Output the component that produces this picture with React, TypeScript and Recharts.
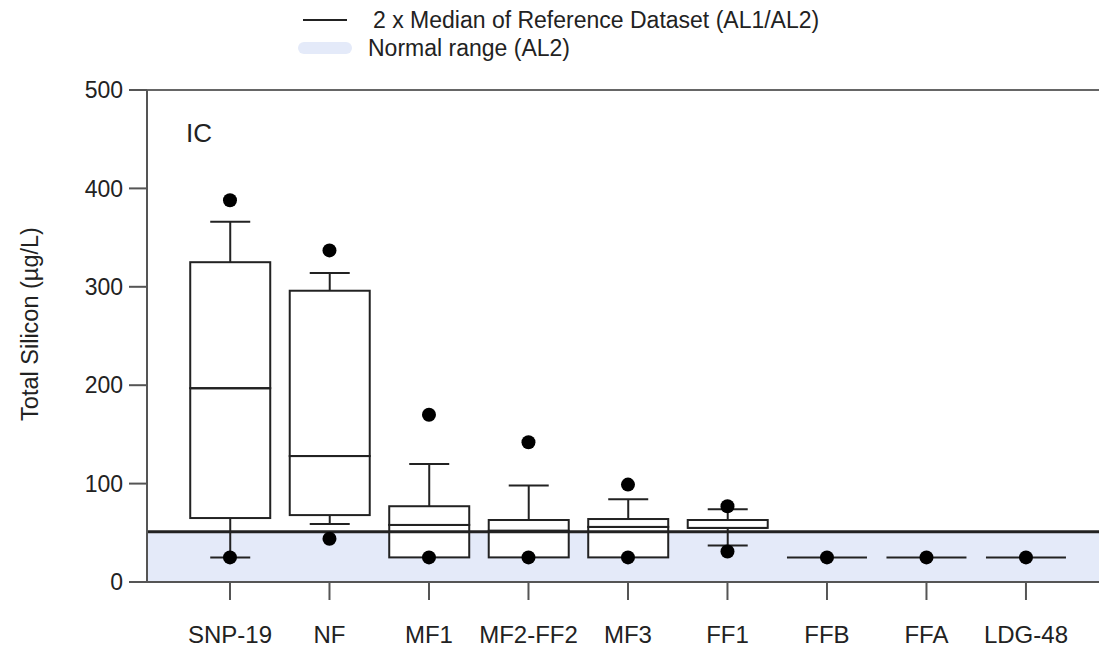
import React from 'react';
import { ComposedChart, Bar, Scatter, XAxis, YAxis, ReferenceLine, ReferenceArea } from 'recharts';

const categories = ['SNP-19', 'NF', 'MF1', 'MF2-FF2', 'MF3', 'FF1', 'FFB', 'FFA', 'LDG-48'];
const whiskerLow = [25, 59, 25, 25, 25, 37, 25, 25, 25];
const q1 = [65, 68, 25, 25, 25, 55, 25, 25, 25];
const median = [197, 128, 58, 52, 56, 55, 25, 25, 25];
const q3 = [325, 296, 77, 63, 64, 63, 25, 25, 25];
const whiskerHigh = [366, 314, 120, 98, 84, 74, 25, 25, 25];
const outlierHigh = [388, 337, 170, 142, 99, 77, null, null, null];
const outlierLow = [25, 44, 25, 25, 25, 31, 25, 25, 25];
const yTicks = [0, 100, 200, 300, 400, 500];
const referenceMedian = 51;

const FONT = '"Liberation Sans", Arial, sans-serif';
const INK = '#222';

// stacked segments: base (hidden) -> lower whisker -> lower box -> upper box -> upper whisker
const data = categories.map((name, i) => ({
  x: i,
  name,
  base: whiskerLow[i],
  lowWhisker: q1[i] - whiskerLow[i],
  boxLow: median[i] - q1[i],
  boxHigh: q3[i] - median[i],
  highWhisker: whiskerHigh[i] - q3[i],
}));

const medianPoints = categories.map((_, i) => ({ x: i, y: median[i] }));
const outlierPoints = [
  ...outlierHigh.map((v, i) => ({ x: i, y: v })).filter((p) => p.y !== null),
  ...outlierLow.map((v, i) => ({ x: i, y: v })),
];

const Hidden = () => null;

const BoxRect = (props: any) => {
  const { x, y, width, height } = props;
  const h = Math.abs(height);
  if (!h) return null;
  return <rect x={x} y={Math.min(y, y + height)} width={width} height={h} fill="#fff" stroke={INK} strokeWidth={2} />;
};

const LowWhisker = (props: any) => {
  const { x, y, width, height } = props;
  const h = Math.abs(height);
  if (!h) return null;
  const cx = x + width / 2;
  const top = Math.min(y, y + height);
  return (
    <g stroke={INK} strokeWidth={2}>
      <line x1={cx} x2={cx} y1={top} y2={top + h} />
      <line x1={cx - 20} x2={cx + 20} y1={top + h} y2={top + h} />
    </g>
  );
};

const HighWhisker = (props: any) => {
  const { x, y, width, height } = props;
  const h = Math.abs(height);
  if (!h) return null;
  const cx = x + width / 2;
  const top = Math.min(y, y + height);
  return (
    <g stroke={INK} strokeWidth={2}>
      <line x1={cx} x2={cx} y1={top} y2={top + h} />
      <line x1={cx - 20} x2={cx + 20} y1={top} y2={top} />
    </g>
  );
};

const MedianLine = (props: any) => {
  const { cx, cy } = props;
  return <line x1={cx - 40} x2={cx + 40} y1={cy} y2={cy} stroke={INK} strokeWidth={2} />;
};

const Dot = (props: any) => <circle cx={props.cx} cy={props.cy} r={7} fill="#000" />;

const YLabel = (props: any) => {
  const vb = props.viewBox;
  const cy = vb.y + vb.height / 2 - 12;
  return (
    <text x={30} y={cy} transform={`rotate(-90 30 ${cy})`} textAnchor="middle" dominantBaseline="central"
      fontSize={23.5} fill={INK} fontFamily={FONT}>
      Total Silicon (µg/L)
    </text>
  );
};

export default function App() {
  return (
    <div style={{ position: 'absolute', left: 0, top: 0, width: 1099, height: 648, background: '#fff' }}>
      <svg width={1099} height={80} style={{ position: 'absolute', left: 0, top: 0 }}>
        <line x1={303} x2={347} y1={20} y2={20} stroke={INK} strokeWidth={2} />
        <text x={373} y={28} fontSize={23} fill={INK} fontFamily={FONT}>2 x Median of Reference Dataset (AL1/AL2)</text>
        <rect x={298} y={42} width={54} height={12} rx={6} fill="#e4eaf9" />
        <text x={368} y={56} fontSize={23} fill={INK} fontFamily={FONT}>Normal range (AL2)</text>
      </svg>
      <ComposedChart width={1099} height={648} data={data} margin={{ top: 90, right: 0, bottom: 0, left: 0 }}>
        <ReferenceArea y1={0} y2={referenceMedian} fill="#e4eaf9" fillOpacity={1} stroke="none" ifOverflow="hidden" />
        <ReferenceLine y={500} stroke="#666" strokeWidth={2} />
        <XAxis
          dataKey="x"
          type="number"
          domain={[-0.834, 8.734]}
          allowDataOverflow
          ticks={categories.map((_, i) => i)}
          tickFormatter={(v: number) => categories[v]}
          interval={0}
          height={66}
          tickSize={18}
          tickMargin={26}
          stroke="#555"
          strokeWidth={2}
          tick={{ fontSize: 24, fill: INK, fontFamily: FONT }}
        />
        <YAxis
          type="number"
          domain={[0, 500]}
          allowDataOverflow
          ticks={yTicks}
          width={147}
          tickSize={18}
          tickMargin={6}
          stroke="#555"
          strokeWidth={2}
          tick={{ fontSize: 23, fill: INK, fontFamily: FONT }}
          label={<YLabel />}
        />
        <ReferenceLine y={referenceMedian} stroke={INK} strokeWidth={3} />
        <Bar dataKey="base" stackId="box" barSize={80} shape={<Hidden />} isAnimationActive={false} />
        <Bar dataKey="lowWhisker" stackId="box" barSize={80} shape={<LowWhisker />} isAnimationActive={false} />
        <Bar dataKey="boxLow" stackId="box" barSize={80} shape={<BoxRect />} isAnimationActive={false} />
        <Bar dataKey="boxHigh" stackId="box" barSize={80} shape={<BoxRect />} isAnimationActive={false} />
        <Bar dataKey="highWhisker" stackId="box" barSize={80} shape={<HighWhisker />} isAnimationActive={false} />
        <Scatter data={medianPoints} dataKey="y" shape={<MedianLine />} isAnimationActive={false} />
        <Scatter data={outlierPoints} dataKey="y" shape={<Dot />} isAnimationActive={false} />
      </ComposedChart>
      <div style={{ position: 'absolute', left: 186, top: 117, fontSize: 26, color: INK, fontFamily: FONT, lineHeight: '32px' }}>IC</div>
    </div>
  );
}
